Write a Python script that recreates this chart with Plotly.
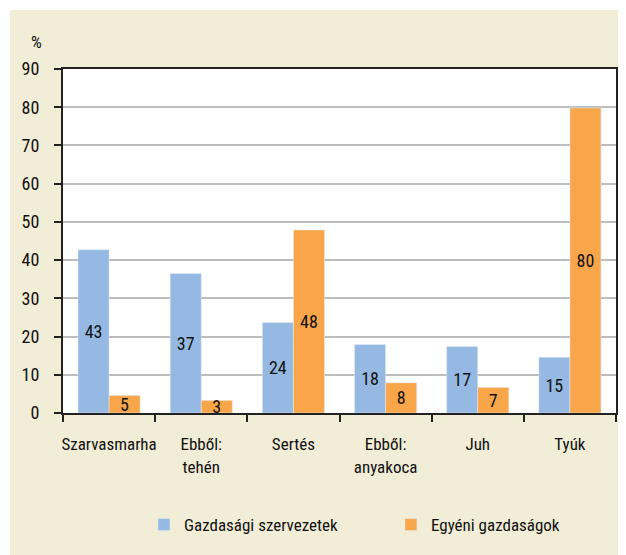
import plotly.graph_objects as go

categories = ["Szarvasmarha", "Ebből:<br>tehén", "Sertés", "Ebből:<br>anyakoca", "Juh", "Tyúk"]
gazdasagi = [42.7, 36.5, 23.7, 17.9, 17.4, 14.6]
egyeni = [4.6, 3.3, 47.9, 7.9, 6.7, 79.8]
gazdasagi_labels = ["43", "37", "24", "18", "17", "15"]
egyeni_labels = ["5", "3", "48", "8", "7", "80"]
series_names = ["Gazdasági szervezetek", "Egyéni gazdaságok"]
y_ticks = [0, 10, 20, 30, 40, 50, 60, 70, 80, 90]

FAM = "Roboto Condensed, Liberation Sans Narrow, DejaVu Sans Condensed, Roboto, sans-serif"
def F(size):
    return dict(family=FAM, size=size, color="#111111")

CREAM = "#F2EDD7"
BLUE = "#95B9E3"
ORANGE = "#F9A64A"
DARK = "#222222"

W, H = 618, 547
L, R, T, B = 55, 10, 61, 142
PW, PH = W - L - R, H - T - B

fig = go.Figure()
fig.add_trace(go.Bar(
    x=categories, y=gazdasagi, name=series_names[0], marker_color=BLUE,
    text=gazdasagi_labels, textposition="inside", insidetextanchor="middle",
    constraintext="none", textfont=F(18), textangle=0,
))
fig.add_trace(go.Bar(
    x=categories, y=egyeni, name=series_names[1], marker_color=ORANGE,
    text=egyeni_labels, textposition="inside", insidetextanchor="middle",
    constraintext="none", textfont=F(18), textangle=0,
))

fig.update_layout(
    width=W, height=H,
    margin=dict(l=L, r=R, t=T, b=B, autoexpand=False),
    paper_bgcolor=CREAM, plot_bgcolor="white",
    barmode="group", bargap=0.326, bargroupgap=0,
    font=F(17),
    showlegend=True,
    legend=dict(orientation="h", xref="container", yref="container",
                x=0.220, xanchor="left", y=0.0548, yanchor="middle",
                font=F(17), entrywidth=202, bgcolor="rgba(0,0,0,0)", traceorder="normal"),
    xaxis=dict(showline=True, linecolor=DARK, linewidth=2, mirror=True,
               ticks="outside", tickson="boundaries", ticklen=7, tickcolor=DARK, tickwidth=2,
               tickfont=F(17), showgrid=False, tickangle=0, automargin=False,
               ticklabelstandoff=15),
    yaxis=dict(range=[0, 90], tickvals=y_ticks, showline=True, linecolor=DARK, linewidth=2,
               mirror=True, ticks="outside", ticklen=7, tickcolor=DARK, tickwidth=2,
               showgrid=True, gridcolor="#BDBDBD", gridwidth=1.5, zeroline=False,
               tickfont=F(18), ticklabelstandoff=11, automargin=False),
    annotations=[dict(text="%", xref="paper", yref="paper", x=(28 - L) / PW, y=(T + PH - 34) / PH,
                      xanchor="center", yanchor="middle", showarrow=False, font=F(17))],
    shapes=[
        dict(type="rect", xref="paper", yref="paper", x0=(0 - L) / PW, x1=(2 - L) / PW,
             y0=(T + PH - H) / PH, y1=(T + PH) / PH, fillcolor="white", line_width=0, layer="below"),
        dict(type="rect", xref="paper", yref="paper", x0=(0 - L) / PW, x1=(W - L) / PW,
             y0=(T + PH - 2) / PH, y1=(T + PH) / PH, fillcolor="white", line_width=0, layer="below"),
    ],
)

fig.write_html("out.html")
